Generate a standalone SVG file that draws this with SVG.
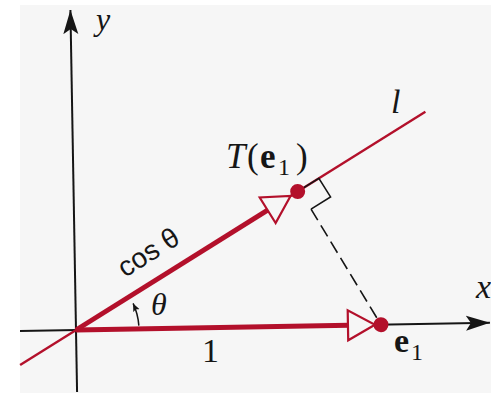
<svg xmlns="http://www.w3.org/2000/svg" width="491" height="393" viewBox="0 0 491 393">
<style>
.ax{stroke:#151515;stroke-width:2;fill:none}
.thin{stroke:#b3102b;stroke-width:2.4;fill:none}
.thick{stroke:#b3102b;stroke-width:5;fill:none;stroke-linecap:butt}
.head{stroke:#b3102b;stroke-width:2.2;fill:#f6f6f6;stroke-linejoin:miter}
.dot{fill:#b3102b}
.dash{stroke:#151515;stroke-width:1.6;stroke-dasharray:13 6;fill:none}
.sq{stroke:#151515;stroke-width:1.6;fill:none}
.t{font-family:"Liberation Serif","Times New Roman",serif;fill:#161616}
.i{font-style:italic}
.b{font-weight:bold}
.s{font-family:"Liberation Sans",Arial,sans-serif;fill:#161616}
</style>
<defs>
<marker id="axArrow" markerUnits="userSpaceOnUse" markerWidth="26" markerHeight="16" refX="24" refY="8" orient="auto">
<path d="M24 8 L0 0.5 L5 8 L0 15.5 Z" fill="#151515"/>
</marker>
<marker id="thArrow" markerUnits="userSpaceOnUse" markerWidth="9" markerHeight="8" refX="8" refY="3.5" orient="auto">
<path d="M8 3.5 L0 0 L1.5 3.5 L0 7 Z" fill="#151515"/>
</marker>
</defs>
<rect x="0" y="0" width="491" height="393" fill="#ffffff"/>
<rect x="20" y="5" width="471" height="388" fill="#f6f6f6"/>
<g transform="rotate(-1 76 330)">
<g id="connectors">
<line id="x-axis" class="ax" x1="20" y1="330" x2="490" y2="330" marker-end="url(#axArrow)"/>
<line id="y-axis" class="ax" x1="76" y1="392" x2="76" y2="10" marker-end="url(#axArrow)"/>
<line id="line-l" class="thin" x1="19.5" y1="364" x2="429.15" y2="117.8"/>
<line id="vec-e1" class="thick" x1="76" y1="330" x2="349" y2="330"/>
<polygon class="head" points="348,315 348,345 375,330"/>
<line id="vec-Te1" class="thick" x1="76" y1="330" x2="270.5" y2="213.1"/>
<polygon class="head" points="277.45,226.46 261.99,200.74 292.86,199.70"/>
<line id="projection" class="dash" x1="313.1" y1="213.2" x2="381" y2="330"/>
<polyline id="right-angle" class="sq" points="301.77,194.34 321.49,182.49 332.82,201.35 313.1,213.2"/>
<path id="theta-arc" d="M138.91 326.7 A63 63 0 0 0 133.55 304.38" stroke="#151515" stroke-width="1.5" fill="none" marker-end="url(#thArrow)"/>
</g>
<g id="node-Te1"><circle class="dot" cx="300.06" cy="195.37" r="7.5"/></g>
<g id="node-e1"><circle class="dot" cx="381" cy="330" r="7.5"/></g>
</g>
<g id="labels">
<text class="t i" x="96" y="30" font-size="32">y</text>
<text class="t i" x="476" y="298" font-size="34">x</text>
<text class="t i" x="391" y="113" font-size="34">l</text>
<text class="t" y="168" font-size="35"><tspan class="i" x="226">T</tspan><tspan x="247">(</tspan><tspan class="b" x="260">e</tspan><tspan x="278" y="175" font-size="24">1</tspan><tspan x="296" y="168">)</tspan></text>
<text class="t" y="352" font-size="34"><tspan class="b" x="394">e</tspan><tspan x="411" y="360" font-size="24">1</tspan></text>
<text class="t" x="202" y="362" font-size="34">1</text>
<text class="t i" x="151" y="315" font-size="32">θ</text>
<text class="s" font-size="28" transform="translate(125 278) rotate(-32)">cos θ</text>
</g>
</svg>
